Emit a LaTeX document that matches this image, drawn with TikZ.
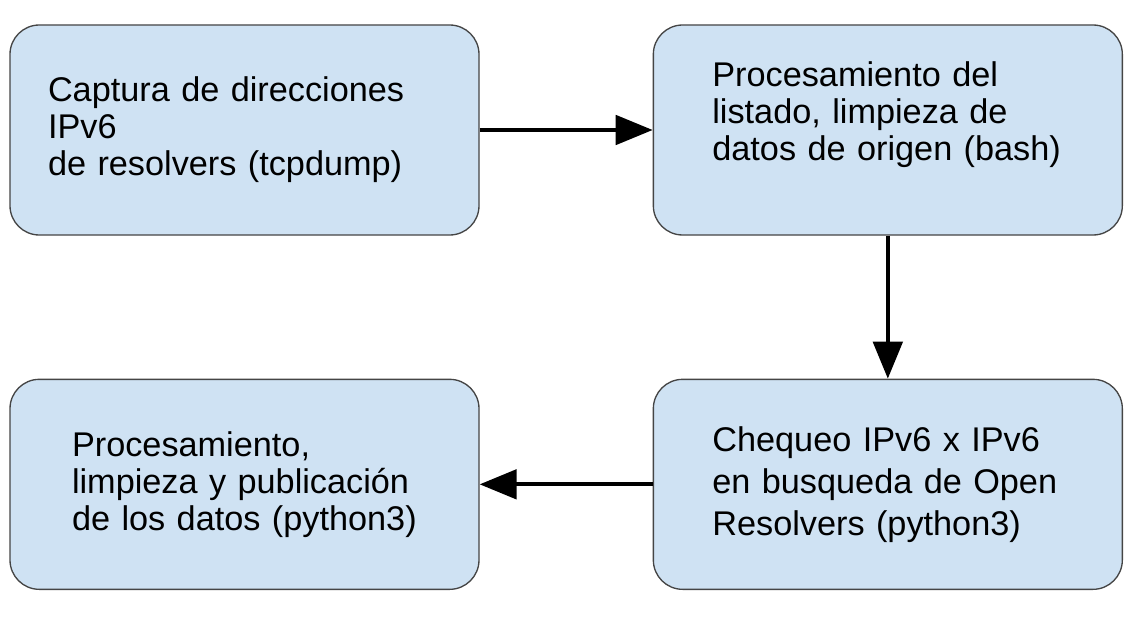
\documentclass[tikz,border=0pt]{standalone}
\usepackage{fontspec}
\setmainfont{Liberation Sans}
\usepackage{tikz}
\usetikzlibrary{arrows.meta,positioning}

\definecolor{boxfill}{HTML}{CFE2F3}
\definecolor{boxline}{HTML}{454545}

\begin{document}
\begin{tikzpicture}[
    x=0.75pt, y=-0.75pt,
    node distance=107.25pt and 129.75pt,
    box/.style={draw=boxline, line width=1pt, fill=boxfill, rectangle,
                rounded corners=22pt, align=left,
                minimum width=351.75pt, minimum height=157.5pt,
                font=\fontsize{25.7pt}{27.75pt}\selectfont},
    arrow/.style={-{Triangle[length=27.75pt, width=22pt]}, line width=3pt}
]
\useasboundingbox (0,0) rectangle (1146,624);

\node[box, inner xsep=28.5pt, text width=294.75pt] (capture) at (244.5,130)
    {\mbox{Captura de direcciones}\\IPv6\\\mbox{de resolvers (tcpdump)}};
\node[box, inner xsep=44.25pt, text width=263.25pt, right=of capture] (clean)
    {\mbox{Procesamiento del}\\\mbox{listado, limpieza de}\\\mbox{datos de origen (bash)}\\\mbox{}};
\node[box, inner xsep=44.25pt, text width=263.25pt, below=of clean,
      font=\fontsize{25.7pt}{31.5pt}\selectfont] (check)
    {\mbox{Chequeo IPv6 x IPv6}\\\mbox{en busqueda de Open}\\\mbox{Resolvers (python3)}};
\node[box, inner xsep=46.5pt, text width=258.75pt, left=of check] (publish)
    {\mbox{Procesamiento,}\\\mbox{limpieza y publicaci\'on}\\\mbox{de los datos (python3)}};

\draw[arrow] (capture) -- (clean);
\draw[arrow] (clean) -- (check);
\draw[arrow] (check) -- (publish);
\end{tikzpicture}
\end{document}
